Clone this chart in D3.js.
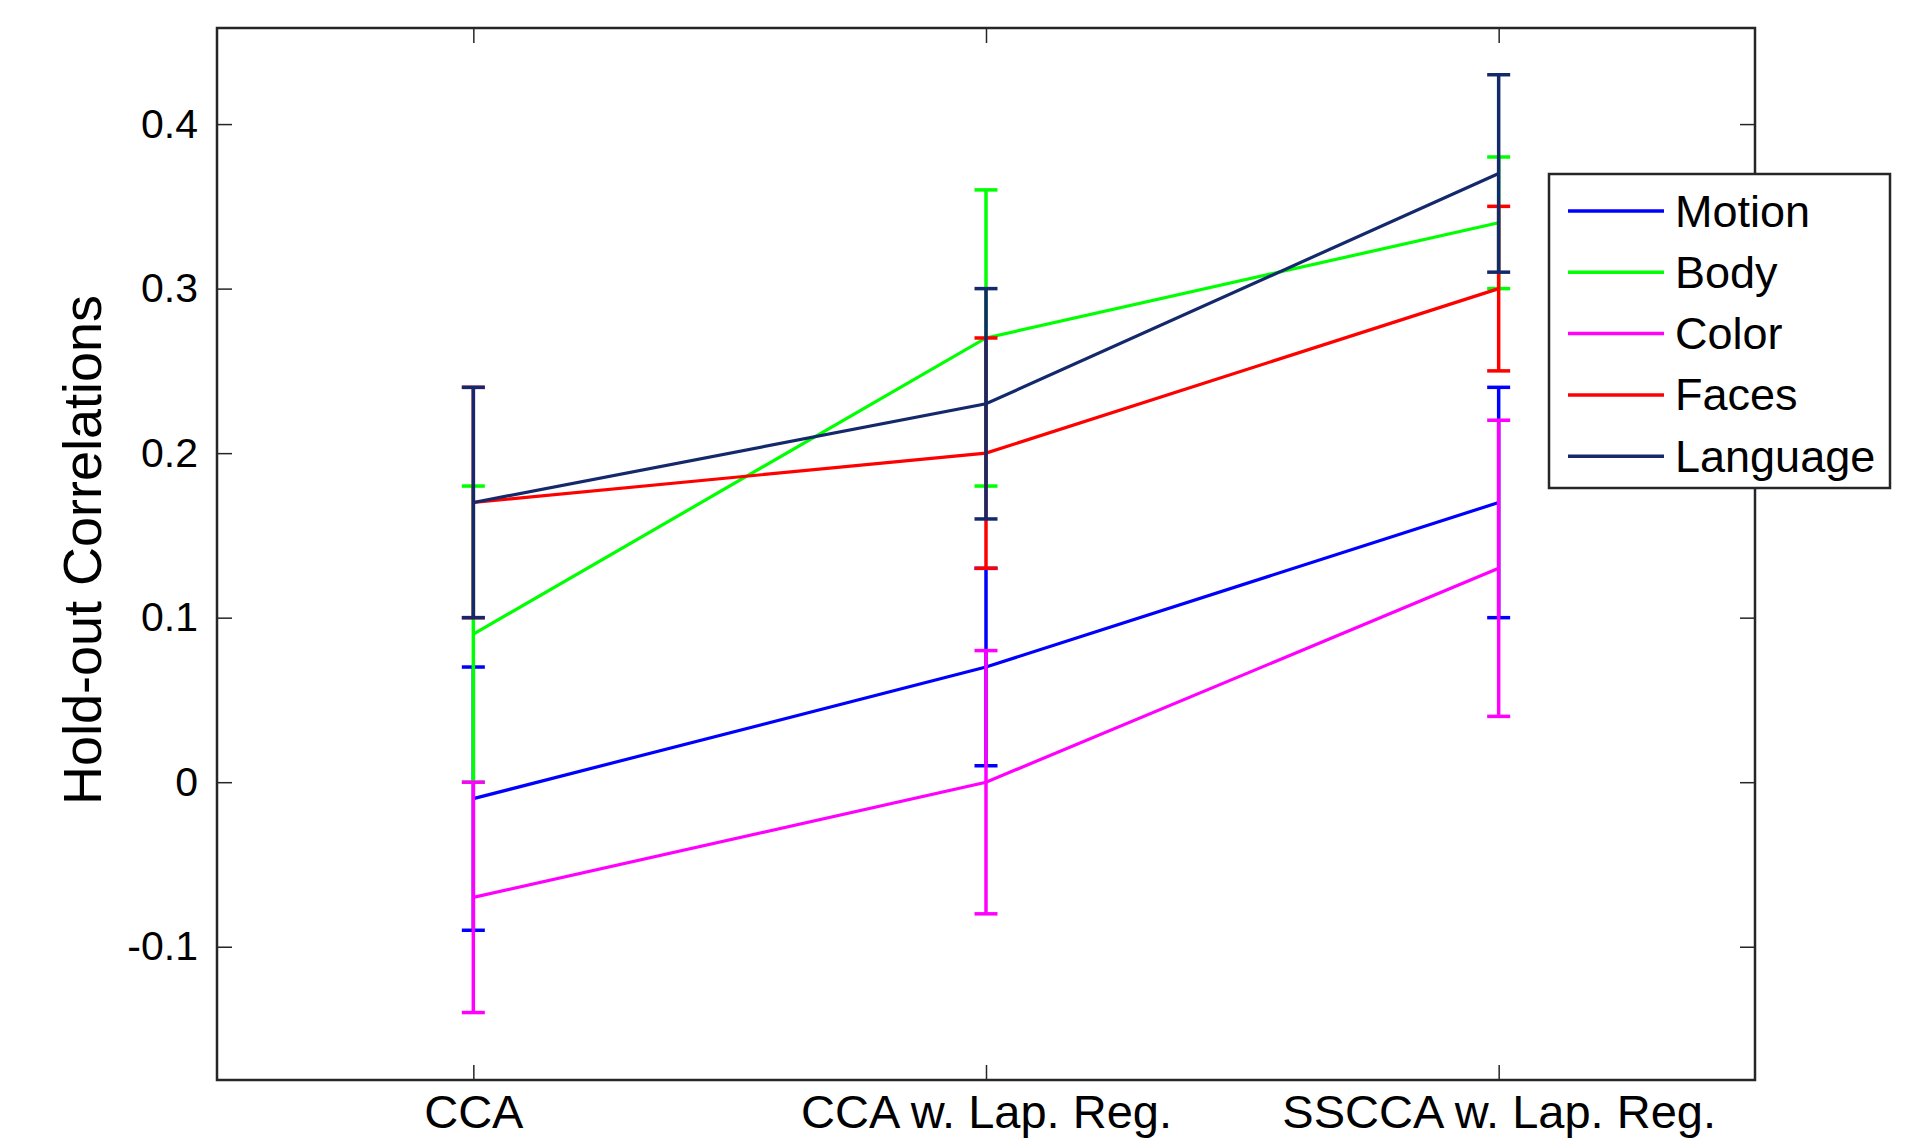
<!DOCTYPE html>
<html>
<head>
<meta charset="utf-8">
<script src="https://cdn.jsdelivr.net/npm/d3@7"></script>
<style>
	body { margin: 0; background: #fff; }
	svg { display: block; font-family: "Liberation Sans", Arial, sans-serif; }
</style>
</head>
<body>
<script>
// data
const categories = ["CCA", "CCA w. Lap. Reg.", "SSCCA w. Lap. Reg."];
const seriesNames = ["Motion", "Body", "Color", "Faces", "Language"];
const seriesColors = ["#0000ff", "#00ff00", "#ff00ff", "#ff0000", "#14296b"];
const motionMean = [-0.01, 0.07, 0.17];
const motionErr = [0.08, 0.06, 0.07];
const bodyMean = [0.09, 0.27, 0.34];
const bodyErr = [0.09, 0.09, 0.04];
const colorMean = [-0.07, 0.0, 0.13];
const colorErr = [0.07, 0.08, 0.09];
const facesMean = [0.17, 0.2, 0.3];
const facesErr = [0.07, 0.07, 0.05];
const languageMean = [0.17, 0.23, 0.37];
const languageErr = [0.07, 0.07, 0.06];
const yTicks = [-0.1, 0, 0.1, 0.2, 0.3, 0.4];
const yTickLabels = ["-0.1", "0", "0.1", "0.2", "0.3", "0.4"];

const means = [motionMean, bodyMean, colorMean, facesMean, languageMean];
const errs = [motionErr, bodyErr, colorErr, facesErr, languageErr];

var width = 1917,
	height = 1142;

var box = { left: 217, top: 28, right: 1755, bottom: 1080 };

var svg = d3.select("body").append("svg").attr("width", width).attr("height", height);

var x = d3.scaleLinear().domain([0.5, 3.5]).range([box.left, box.right]);
var y = d3.scaleLinear().domain([-0.181, 0.4584]).range([box.bottom, box.top]);

var axisColor = "#262626";

function styleAxis(g, showText, size) {
	g.select(".domain").remove();
	g.selectAll(".tick line").attr("stroke", axisColor).attr("stroke-width", 1.5);
	g.selectAll(".tick text")
		.attr("fill", "#000")
		.style("font-size", size + "px")
		.style("display", showText ? null : "none");
}

// y axes (left with labels, right ticks only)
svg.append("g")
	.attr("transform", "translate(" + box.left + ",0)")
	.call(d3.axisLeft(y).tickValues(yTicks).tickSize(-15).tickPadding(19)
		.tickFormat((d, i) => yTickLabels[i]))
	.call((g) => styleAxis(g, true, 41));

svg.append("g")
	.attr("transform", "translate(" + box.right + ",0)")
	.call(d3.axisRight(y).tickValues(yTicks).tickSize(-15))
	.call((g) => styleAxis(g, false, 41));

// x axes
svg.append("g")
	.attr("transform", "translate(0," + box.bottom + ")")
	.call(d3.axisBottom(x).tickValues([1, 2, 3]).tickSize(-15).tickPadding(15)
		.tickFormat((d) => categories[d - 1]))
	.call((g) => styleAxis(g, true, 47));

svg.append("g")
	.attr("transform", "translate(0," + box.top + ")")
	.call(d3.axisTop(x).tickValues([1, 2, 3]).tickSize(-15))
	.call((g) => styleAxis(g, false, 41));

svg.append("rect")
	.attr("x", box.left)
	.attr("y", box.top)
	.attr("width", box.right - box.left)
	.attr("height", box.bottom - box.top)
	.attr("fill", "none")
	.attr("stroke", axisColor)
	.attr("stroke-width", 2.5);

// y label
svg.append("text")
	.attr("transform", "translate(82,550) rotate(-90)")
	.attr("text-anchor", "middle")
	.attr("dominant-baseline", "central")
	.style("font-size", "54px")
	.text("Hold-out Correlations");

// series: line + error bars, drawn in legend order
var line = d3.line()
	.x((d, i) => x(i + 1))
	.y((d) => y(d));

var capHalf = 11.5;

seriesNames.forEach((name, s) => {
	var g = svg.append("g").attr("class", "series").attr("stroke", seriesColors[s]).attr("fill", "none");
	var pts = means[s].map((m, i) => ({ i: i, lo: m - errs[s][i], hi: m + errs[s][i] }));

	g.selectAll("line.bar")
		.data(pts)
		.enter()
		.append("line")
		.attr("class", "bar")
		.attr("x1", (d) => x(d.i + 1))
		.attr("x2", (d) => x(d.i + 1))
		.attr("y1", (d) => y(d.lo))
		.attr("y2", (d) => y(d.hi))
		.attr("stroke-width", 3.5);

	["lo", "hi"].forEach((k) => {
		g.selectAll("line.cap-" + k)
			.data(pts)
			.enter()
			.append("line")
			.attr("class", "cap-" + k)
			.attr("x1", (d) => x(d.i + 1) - capHalf)
			.attr("x2", (d) => x(d.i + 1) + capHalf)
			.attr("y1", (d) => y(d[k]))
			.attr("y2", (d) => y(d[k]))
			.attr("stroke-width", 3.5);
	});

	g.append("path")
		.attr("d", line(means[s]))
		.attr("stroke-width", 3.2);
});

// legend
var legend = svg.append("g").attr("transform", "translate(1549,174)");

legend.append("rect")
	.attr("width", 341)
	.attr("height", 314)
	.attr("fill", "#fff")
	.attr("stroke", axisColor)
	.attr("stroke-width", 2.5);

var items = legend.selectAll("g.item")
	.data(seriesNames)
	.enter()
	.append("g")
	.attr("class", "item")
	.attr("transform", (d, i) => "translate(0," + (37 + i * 61.3) + ")");

items.append("line")
	.attr("x1", 19)
	.attr("x2", 115)
	.attr("stroke", (d, i) => seriesColors[i])
	.attr("stroke-width", 3.5);

items.append("text")
	.attr("x", 126)
	.attr("dominant-baseline", "central")
	.style("font-size", "45px")
	.text((d) => d);
</script>
</body>
</html>
